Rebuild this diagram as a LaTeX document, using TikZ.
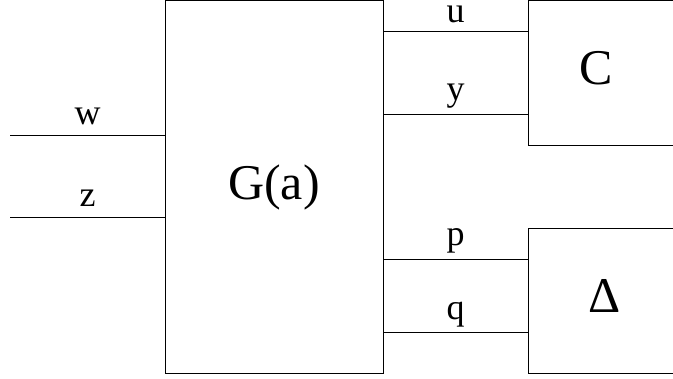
\documentclass[tikz,border=0pt]{standalone}
\usepackage{fontspec}
\setmainfont{Liberation Serif}
\usetikzlibrary{positioning}

\begin{document}
\begin{tikzpicture}[x=1pt, y=-1pt, line width=1pt,
box/.style={draw,inner sep=0pt,outer sep=0pt,font=\fontsize{50}{54}\selectfont},
lab/.style={anchor=base,yshift=11pt,inner sep=0pt,font=\fontsize{36}{40}\selectfont},
big/.style={inner sep=0pt,font=\fontsize{50}{54}\selectfont}]
\useasboundingbox (0,0) rectangle (673,379);
\clip (0,0) rectangle (673,379);
\node[box, minimum width=218pt, minimum height=373pt] (G) at (274,187.5) {G(a)};
\node[box, minimum width=172pt, minimum height=145pt, below right=0pt and 145pt of G.north east] (C) {};
\node[box, minimum width=172pt, minimum height=145pt, above right=0pt and 145pt of G.south east] (D) {};
\node[big] (Clab) at (596,68) {C};
\node[big] (Dlab) at (605,296) {Δ};
% inputs on the left
\coordinate (win) at (10,136);
\coordinate (zin) at (10,218);
\draw (win) -- node[lab] {w} (G.west |- win);
\draw (zin) -- node[lab] {z} (G.west |- zin);
% connections to C and Delta
\draw (G.east |- 0,32) -- node[lab,yshift=-2pt] {u} (C.west |- 0,32);
\draw (G.east |- 0,115) -- node[lab,yshift=3pt] {y} (C.west |- 0,115);
\draw (G.east |- 0,260) -- node[lab,yshift=3pt] {p} (D.west |- 0,260);
\draw (G.east |- 0,333) -- node[lab,yshift=2pt] {q} (D.west |- 0,333);
\end{tikzpicture}
\end{document}
